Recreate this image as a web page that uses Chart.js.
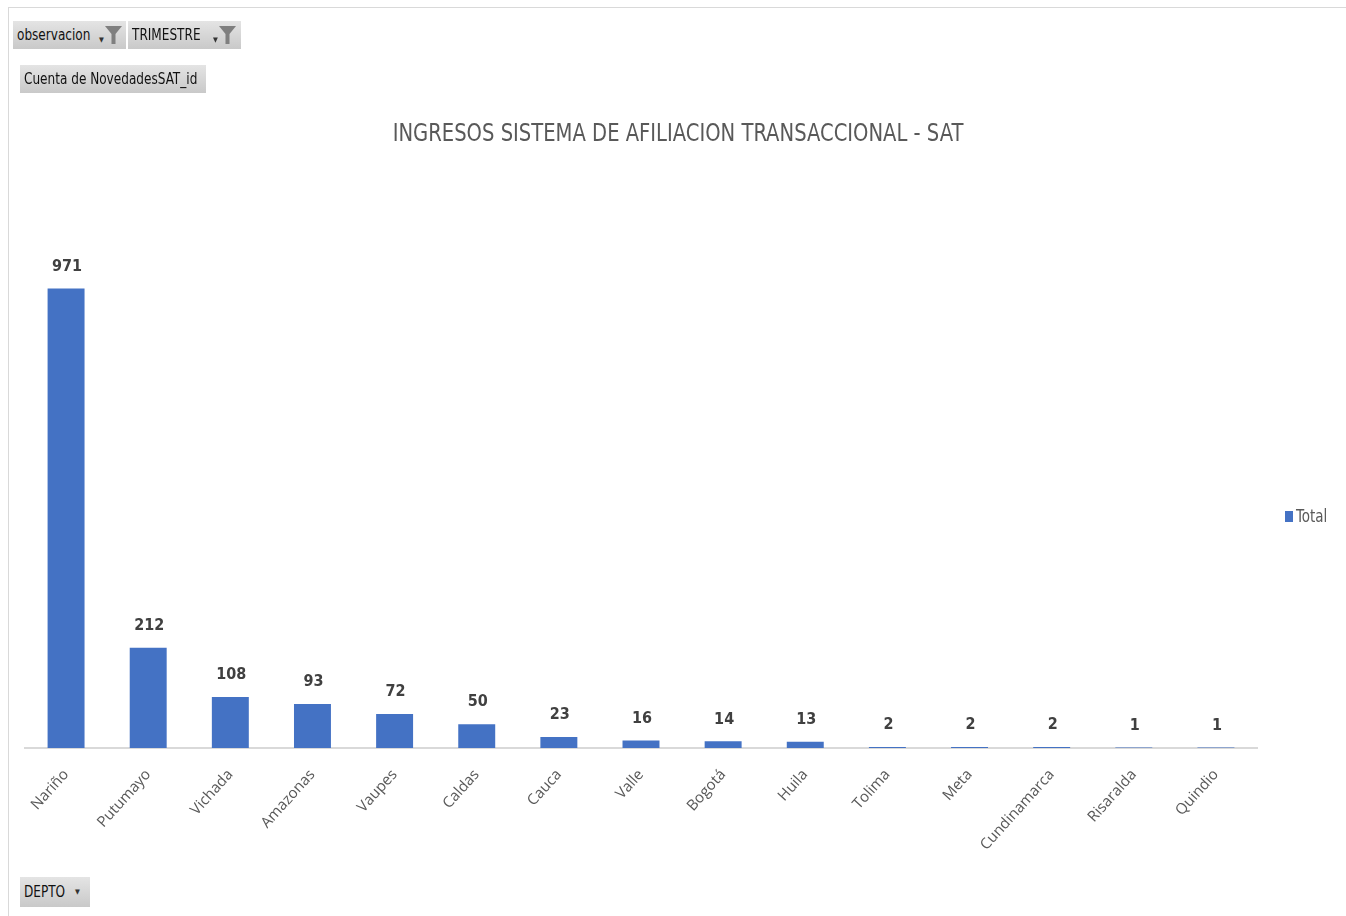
<!DOCTYPE html>
<html>
<head>
<meta charset="utf-8">
<script src="https://cdn.jsdelivr.net/npm/chart.js@4.4.1/dist/chart.umd.min.js"></script>
<style>
    html, body { margin: 0; padding: 0; background: #fff; }
    body { width: 1346px; height: 916px; position: relative; overflow: hidden; }
    #frame { position: absolute; left: 8px; top: 7px; right: 0; bottom: 0;
             border-top: 1px solid #d9d9d9; border-left: 1px solid #d9d9d9; }
    #chart { position: absolute; left: 0; top: 0; }
    .btn { position: absolute; height: 28px; line-height: 28px; box-sizing: border-box;
           font: 16px 'DejaVu Sans Condensed', sans-serif;
           color: #111; background: linear-gradient(#e4e4e4, #c9c9c9); white-space: nowrap; }
    .btn .t { position: absolute; left: 4px; top: 3px; line-height: 22px; transform: scaleX(0.84); transform-origin: left center; }
    .btn .dd { font-size: 7px; line-height: 7px; position: absolute; top: 16px; color: #333; }
    .btn svg { position: absolute; top: 5px; }
    #legend { position: absolute; left: 1285px; top: 506px; font: 17px 'DejaVu Sans Condensed', sans-serif;
              color: #595959; }
    #legend .t { display: inline-block; transform: scaleX(0.88); transform-origin: left center; }
    #legend span.sq { display: inline-block; width: 8px; height: 11px; background: #4472C4; margin-right: 3px; }
</style>
</head>
<body>
<div id="frame"></div>
<canvas id="chart" width="1346" height="916"></canvas>

<div class="btn" style="left:13px; top:21px; width:113px;"><span class="t">observacion</span>
    <span class="dd" style="left:86px;">&#9660;</span>
    <svg style="left:92px;" width="17" height="18" viewBox="0 0 17 18"><path d="M0 0 H17 L10.5 8 V18 H6.5 V8 Z" fill="#7f7f7f"/></svg>
</div>
<div class="btn" style="left:128px; top:21px; width:113px;"><span class="t">TRIMESTRE</span>
    <span class="dd" style="left:85px;">&#9660;</span>
    <svg style="left:91px;" width="17" height="18" viewBox="0 0 17 18"><path d="M0 0 H17 L10.5 8 V18 H6.5 V8 Z" fill="#7f7f7f"/></svg>
</div>
<div class="btn" style="left:20px; top:65px; width:186px;"><span class="t">Cuenta de NovedadesSAT_id</span></div>
<div class="btn" style="left:20px; top:877px; width:70px; height:30px;"><span class="t" style="top:4px;">DEPTO</span>
    <span class="dd" style="left:55px; top:12px;">&#9660;</span>
</div>
<div id="legend"><span class="sq"></span><span class="t">Total</span></div>

<script>
    // Departments and counts
    var deptos = ['Nariño', 'Putumayo', 'Vichada', 'Amazonas', 'Vaupes', 'Caldas', 'Cauca', 'Valle',
                  'Bogotá', 'Huila', 'Tolima', 'Meta', 'Cundinamarca', 'Risaralda', 'Quindio'];
    var totals = [971, 212, 108, 93, 72, 50, 23, 16, 14, 13, 2, 2, 2, 1, 1];

    var chartTitle = 'INGRESOS SISTEMA DE AFILIACION TRANSACCIONAL - SAT';
    var narrow = "'DejaVu Sans Condensed', sans-serif";

    // Title (centred on the whole frame, like Excel) and value labels above bars
    var decorations = {
        id: 'decorations',
        afterDatasetsDraw: function(chart) {
            var ctx = chart.ctx;
            var meta = chart.getDatasetMeta(0);
            ctx.save();
            ctx.font = 'bold 16px ' + narrow;
            ctx.fillStyle = '#404040';
            ctx.textAlign = 'center';
            ctx.textBaseline = 'middle';
            meta.data.forEach(function(bar, i) {
                ctx.fillText(String(totals[i]), bar.x + 1, bar.y - 22);
            });
            ctx.restore();

            ctx.save();
            ctx.font = '25px ' + narrow;
            ctx.fillStyle = '#595959';
            ctx.textAlign = 'center';
            ctx.textBaseline = 'middle';
            ctx.translate(678, 134);
            ctx.scale(0.87, 1);
            ctx.fillText(chartTitle, 0, 0);
            ctx.restore();
        }
    };

    new Chart(document.getElementById('chart'), {
        type: 'bar',
        data: {
            labels: deptos,
            datasets: [{
                label: 'Total',
                data: totals,
                backgroundColor: '#4472C4',
                barPercentage: 0.45,
                categoryPercentage: 1
            }]
        },
        options: {
            responsive: false,
            animation: false,
            layout: { padding: { left: 25, right: 89, top: 180, bottom: 48 } },
            plugins: {
                legend: { display: false },
                tooltip: { enabled: false },
                title: { display: false }
            },
            scales: {
                x: {
                    grid: { display: false },
                    border: { display: true, color: '#d9d9d9', width: 2 },
                    ticks: {
                        color: '#595959',
                        font: { family: "'Open Sans', sans-serif", size: 15 },
                        minRotation: 48,
                        maxRotation: 48,
                        padding: 10,
                        autoSkip: false
                    },
                    afterFit: function(scale) { scale.height = 120; }
                },
                y: {
                    display: false,
                    min: 0,
                    max: 1200
                }
            }
        },
        plugins: [decorations]
    });
</script>
</body>
</html>
